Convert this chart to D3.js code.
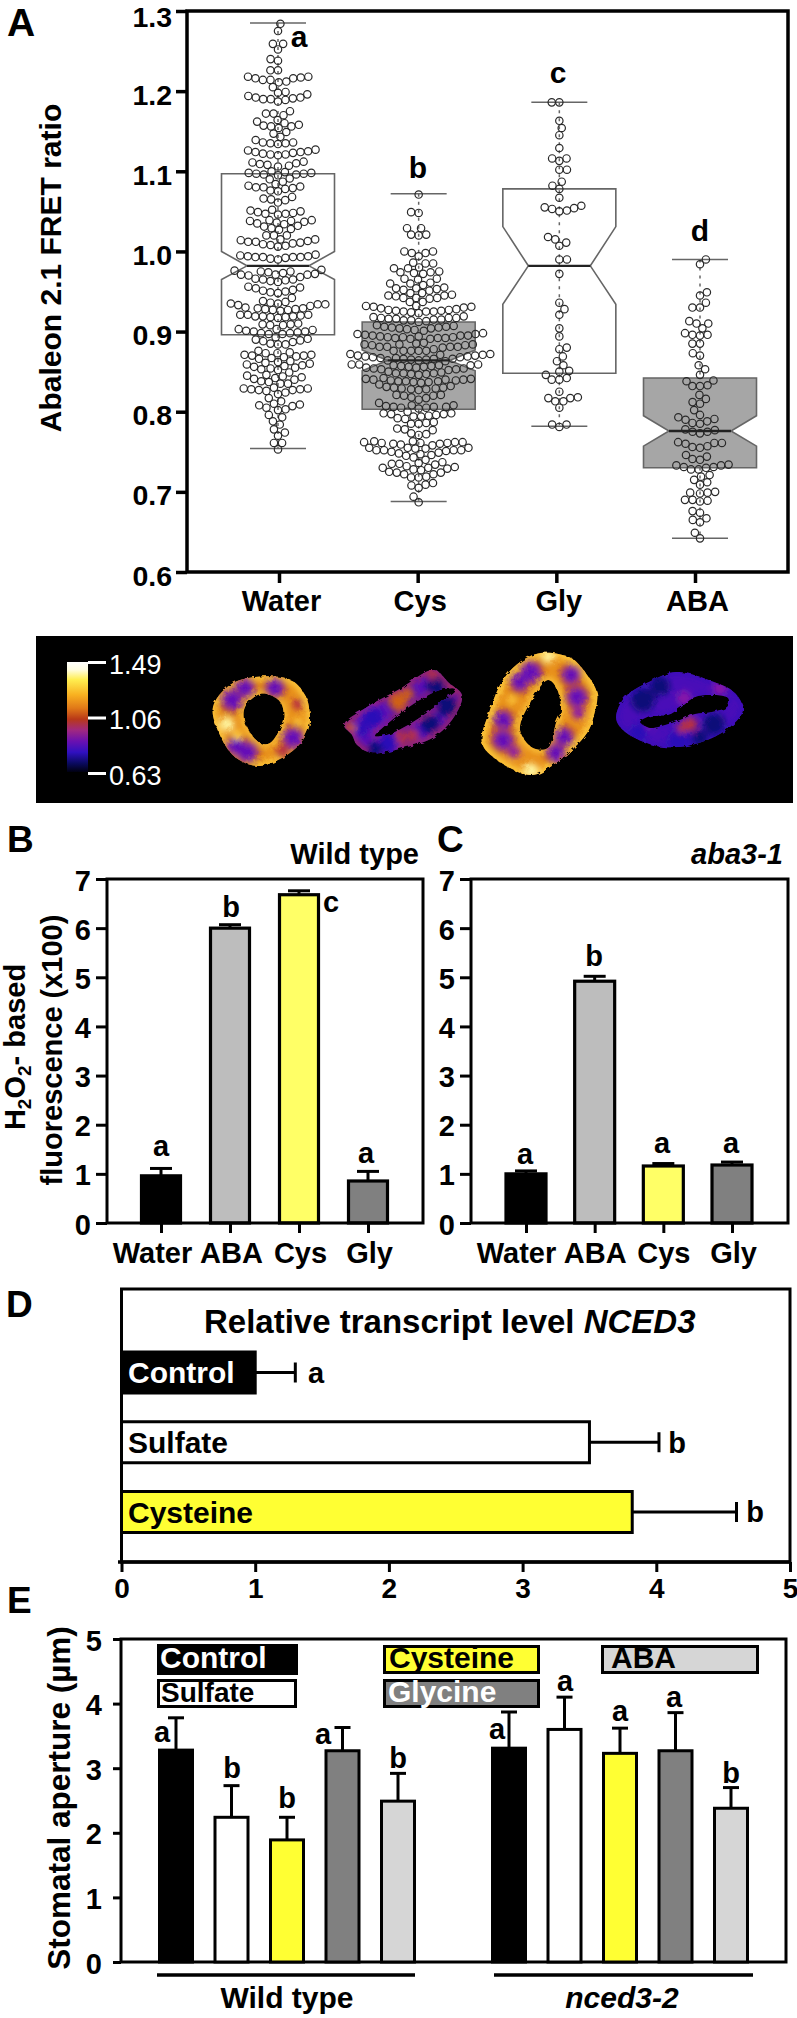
<!DOCTYPE html>
<html><head><meta charset="utf-8">
<script src="https://cdn.jsdelivr.net/npm/d3@7"></script>
<style>
html,body{margin:0;padding:0;background:#fff}
svg{display:block}
text{font-family:"Liberation Sans",Arial,sans-serif;font-weight:700;fill:#000}
</style></head><body>
<svg id="fig" width="797" height="2018"></svg>
<script>
/* ---------- Panel A data ---------- */
const boxCategories = ["Water","Cys","Gly","ABA"];
const boxLetters = ["a","b","c","d"];
const boxQ3 = [1.097,0.912,1.078,0.842];
const boxNotchHigh = [1.0,0.877,1.031,0.795];
const boxMedian = [0.982,0.864,0.982,0.776];
const boxNotchLow = [0.965,0.851,0.934,0.757];
const boxQ1 = [0.896,0.803,0.848,0.730];
const boxWhiskerHigh = [1.285,1.072,1.186,0.990];
const boxWhiskerLow = [0.754,0.688,0.782,0.642];
const boxFills = ["none","#a6a6a6","none","#a6a6a6"];
const aTicks = [0.6,0.7,0.8,0.9,1.0,1.1,1.2,1.3];

const waterValues = [1.284,1.275,1.259,1.259,1.252,1.24,1.238,1.226,1.226,
1.205,1.211,1.212,1.214,1.214,1.216,1.216,1.217,1.218,1.218,
1.187,1.189,1.19,1.19,1.191,1.192,1.192,1.194,1.196,1.198,1.199,
1.17,1.172,1.172,1.175,1.164,
1.143,1.147,1.149,1.154,1.156,1.156,1.157,1.158,1.16,1.162,
1.12,1.121,1.121,1.122,1.123,1.124,1.124,1.125,1.126,1.127,1.134,1.135,1.135,1.136,1.136,1.139,
1.106,1.107,1.108,1.109,1.11,1.111,1.112,
1.095,1.096,1.096,1.097,1.097,1.098,1.098,1.099,1.1,
1.075,1.076,1.078,1.079,1.08,1.08,1.081,1.082,1.084,1.087,1.09,1.091,
1.061,1.064,1.065,1.066,1.068,
1.046,1.047,1.047,1.048,1.049,1.05,1.051,1.052,
1.027,1.028,1.029,1.031,1.032,1.034,1.035,1.036,1.037,1.038,1.038,1.039,1.039,
1.006,1.007,1.008,1.009,1.01,1.011,1.012,1.012,1.013,1.014,1.015,1.015,1.02,1.02,1.02,
.99,.991,.992,.993,.993,.993,.993,.994,.994,.995,.996,
.962,.963,.964,.965,.965,.966,.968,.97,.971,.971,.971,.972,.973,.974,.975,.975,.976,.977,
.948,.949,.95,.951,.952,.954,.955,.956,
.932,.933,.934,.934,.935,.935,.936,.937,.938,.942,
.926,.927,.927,.928,.928,.929,.929,.93,
.917,.918,.918,.919,.919,.919,.92,.921,.921,.921,
.908,.908,.909,.909,.91,
.897,.897,.898,.898,.899,.9,.9,.901,.902,.903,.903,
.884,.884,.885,.887,.888,.889,.89,.891,.893,
.866,.867,.868,.869,.87,.87,.871,.871,.873,.873,.874,.876,
.852,.853,.854,.855,.856,.857,.858,.859,.86,.861,.862,.863,
.835,.835,.837,.838,.84,.841,.842,.843,.844,.845,.846,.849,
.822,.824,.826,.827,.827,.828,.828,.829,.829,.83,
.802,.803,.805,.807,.808,.809,.81,.813,.817,
.788,.793,.796,.77,.774,.778,.784,.761,.761,.753];

const cysValues = [1.071,1.048,1.049,1.029,1.029,1.02,1.021,1.021,
.994,.998,.998,1.0,1.0,
.979,.979,.98,.985,.985,.986,
.972,.973,.974,.974,.975,
.96,.96,.961,.965,.966,.966,.958,.954,
.941,.942,.942,.942,.944,.945,.945,.946,.948,.948,.951,.952,.953,.954,.955,
.923,.924,.925,.925,.925,.926,.926,.927,.927,.928,.929,.93,.931,.932,.931,.932,.937,.937,
.912,.913,.914,.914,.915,.915,.916,.916,.917,.917,.917,.918,.919,
.901,.902,.903,.904,.904,.905,.905,.906,.906,.907,.908,
.891,.891,.892,.892,.892,.893,.893,.893,.894,.894,.895,.895,.895,.896,.897,.897,.898,
.876,.876,.876,.876,.876,.878,.88,.881,.881,.881,.881,.883,.883,.884,.884,.884,.885,.886,
.863,.864,.864,.865,.865,.866,.866,.866,.867,.867,.868,.868,.869,.869,.87,.87,.871,.871,.872,.872,
.852,.853,.853,.854,.854,.855,.855,.856,.856,.857,.857,.858,.858,.858,.859,.859,.859,
.846,.847,.847,.848,.848,.848,.849,.85,
.836,.837,.837,.838,.838,.838,.839,.839,.84,.84,.84,.841,.841,.842,
.827,.828,.828,.829,.829,.83,.83,.831,.832,.834,
.811,.815,.817,.818,.82,.82,.821,.821,
.804,.805,.805,.806,.806,.806,.807,.808,.808,
.791,.792,.794,.794,.795,.796,.797,.797,.798,.798,.8,
.777,.778,.779,.785,.785,.786,.787,
.771,.772,.773,
.758,.759,.76,.76,.761,.761,.761,.762,.762,.762,.763,.763,
.748,.749,.75,.751,.752,.752,.752,.752,.754,.754,.755,.755,.755,
.734,.735,.735,.736,.737,.74,.743,.745,.746,.747,
.718,.718,.719,.722,.722,.724,.724,.725,.727,.728,.729,.73,.73,.731,.732,
.705,.708,.709,.711,.694,.687];

const glyValues = [1.186,1.186,1.163,1.154,1.145,1.129,1.116,1.116,1.113,1.102,1.102,
1.087,1.082,1.078,1.067,1.057,1.055,1.054,1.051,1.053,1.05,
1.018,1.015,1.011,1.007,.99,.99,.972,.936,.928,.921,.904,.894,.88,.878,.869,.863,.858,
.851,.85,.846,.842,.84,.84,.825,.818,.817,.817,.813,.813,.805,.784,.784,.781];

const abaValues = [.99,.984,.949,.945,.936,.93,.93,.913,.91,.91,.904,.898,.896,.896,.895,.885,.885,.873,.87,
.858,.853,.846,.839,.838,.833,.832,.832,.821,.816,.812,.81,
.802,.796,.793,.791,.79,.788,.786,.785,.778,.777,.775,.775,.773,
.762,.761,.761,.76,.757,.756,.755,.746,.744,.741,.74,
.734,.733,.733,.731,.731,.73,.728,.728,.721,.719,.715,.712,.709,
.7,.699,.699,.698,.69,.69,.689,.688,.676,.674,.667,.665,.662,.649,.642];
const swarmValues = [waterValues,cysValues,glyValues,abaValues];

/* ---------- Panels B, C data ---------- */
const fluorCategories = ["Water","ABA","Cys","Gly"];
const fluorFills = ["#000000","#bdbdbd","#ffff66","#808080"];
const wtFluor = [0.96,6.0,6.68,0.855];
const wtFluorErr = [1.11,6.07,6.76,1.05];
const wtFluorLetters = ["a","b","c","a"];
const abaFluor = [1.0,4.92,1.16,1.18];
const abaFluorErr = [1.06,5.02,1.21,1.24];
const abaFluorLetters = ["a","b","a","a"];
const fluorTicks = [0,1,2,3,4,5,6,7];

/* ---------- Panel D data ---------- */
const nced3Categories = ["Control","Sulfate","Cysteine"];
const nced3Values = [1.0,3.5,3.82];
const nced3Err = [1.30,4.02,4.6];
const nced3Letters = ["a","b","b"];
const nced3Fills = ["#000000","#ffffff","#ffff33"];
const nced3TextFills = ["#ffffff","#000000","#000000"];
const nced3Ticks = [0,1,2,3,4,5];

/* ---------- Panel E data ---------- */
const apertureSlots = [0,1,2,3,4,6,7,8,9,10];
const apertureValues = [3.28,2.24,1.89,3.27,2.49,3.31,3.6,3.23,3.27,2.38];
const apertureErr = [3.78,2.73,2.24,3.63,2.92,3.87,4.1,3.62,3.86,2.7];
const apertureLetters = ["a","b","b","a","b","a","a","a","a","b"];
const apertureFills = ["#000000","#ffffff","#ffff33","#808080","#d6d6d6","#000000","#ffffff","#ffff33","#808080","#d6d6d6"];
const apertureTicks = [0,1,2,3,4,5];
const legendNames = ["Control","Sulfate","Cysteine","Glycine","ABA"];
const legendFills = ["#000000","#ffffff","#ffff33","#808080","#d6d6d6"];
const legendTextFills = ["#ffffff","#000000","#000000","#ffffff","#000000"];

/* ---------- Heat-map scale ---------- */
const heatTicks = ["1.49","1.06","0.63"];
const heatStops = [[0,"#ffffff"],[0.07,"#fffde0"],[0.16,"#ffee50"],[0.3,"#f8b020"],[0.42,"#e07818"],[0.52,"#b83818"],[0.62,"#a02880"],[0.72,"#6a10b0"],[0.82,"#3010c0"],[0.92,"#0a0a60"],[1,"#000010"]];

const svg = d3.select("#fig");
const defs = svg.append("defs");
const BLACK = "#000";

function txt(g,x,y,s,size,anchor="middle",extra={}){
  const t=g.append("text").attr("x",x).attr("y",y).attr("font-size",size).attr("text-anchor",anchor).text(s);
  Object.entries(extra).forEach(([k,v])=>t.style(k,v));
  return t;
}
function styleAxis(g,{width=3,size=28,dy=null,y=null}){
  g.select(".domain").remove();
  g.selectAll(".tick line").attr("stroke",BLACK).attr("stroke-width",width);
  const t=g.selectAll(".tick text").attr("font-size",size).style("fill","#000").attr("font-family",null);
  if(dy!==null) t.attr("dy",dy);
  if(y!==null) t.attr("y",y);
}
function frame(x0,x1,y0,y1,w){
  svg.append("rect").attr("x",x0).attr("y",y0).attr("width",x1-x0).attr("height",y1-y0)
    .attr("fill","none").attr("stroke",BLACK).attr("stroke-width",w);
}

/* panel letters */
[["A",7,36,39],["B",7,852,37],["C",437,852,37],["D",6,1317,37],["E",7,1613,37]].forEach(d=>txt(svg,d[1],d[2],d[0],d[3],"start"));

/* ========== Panel A ========== */
(function(){
  const y=d3.scaleLinear().domain([0.6,1.3]).range([572,11]);
  const xTick=d3.scalePoint().domain(boxCategories).range([279,695]);
  const xBox=d3.scalePoint().domain(boxCategories).range([278,700]);
  const halfBox=56.5, halfWhisk=28, halfMed=31, r=3.7, d2=7.6;
  const g=svg.append("g");
  boxCategories.forEach((c,i)=>{
    const cx=xBox(c), l=cx-halfBox, rr=cx+halfBox, m=halfMed;
    const gg=g.append("g");
    gg.append("line").attr("x1",cx).attr("x2",cx).attr("y1",y(boxWhiskerHigh[i])).attr("y2",y(boxWhiskerLow[i]))
      .attr("stroke","#666").attr("stroke-width",1.5).attr("stroke-dasharray","3,5");
    [boxWhiskerHigh[i],boxWhiskerLow[i]].forEach(v=>gg.append("line")
      .attr("x1",cx-halfWhisk).attr("x2",cx+halfWhisk).attr("y1",y(v)).attr("y2",y(v)).attr("stroke","#666").attr("stroke-width",1.5));
    const pts=[[l,boxQ3[i]],[rr,boxQ3[i]],[rr,boxNotchHigh[i]],[cx+m,boxMedian[i]],[rr,boxNotchLow[i]],[rr,boxQ1[i]],
      [l,boxQ1[i]],[l,boxNotchLow[i]],[cx-m,boxMedian[i]],[l,boxNotchHigh[i]]];
    gg.append("path").attr("d",d3.line().x(d=>d[0]).y(d=>y(d[1])).curve(d3.curveLinearClosed)(pts))
      .attr("fill",boxFills[i]).attr("stroke","#666").attr("stroke-width",1.6);
    /* beeswarm layout from the values */
    const placed=[];
    swarmValues[i].slice().sort(d3.ascending).forEach((v,k)=>{
      const py=y(v);
      const near=placed.filter(p=>Math.abs(p.y-py)<d2);
      const cand=[0];
      near.forEach(p=>{const dx=Math.sqrt(d2*d2-(p.y-py)*(p.y-py));cand.push(p.x-dx,p.x+dx);});
      const free=cand.filter(x=>near.every(p=>(p.x-x)*(p.x-x)+(p.y-py)*(p.y-py)>=d2*d2-0.01));
      free.sort((a,b)=>(Math.abs(a)-Math.abs(b))||((k%2?1:-1)*(a-b)));
      placed.push({x:free[0],y:py});
    });
    gg.selectAll("circle").data(placed).join("circle")
      .attr("cx",d=>cx+d.x).attr("cy",d=>d.y).attr("r",r)
      .attr("fill","none").attr("stroke","#2a2a2a").attr("stroke-width",1.2);
    gg.append("line").attr("x1",cx-m).attr("x2",cx+m).attr("y1",y(boxMedian[i])).attr("y2",y(boxMedian[i]))
      .attr("stroke","#222").attr("stroke-width",2.4);
  });
  frame(187,788,11,572,3.5);
  const ax=svg.append("g").attr("transform","translate(187,0)")
    .call(d3.axisLeft(y).tickValues(aTicks).tickFormat(d3.format(".1f")).tickSize(11).tickPadding(4));
  styleAxis(ax,{width:3.5,size:28.5,dy:"13px"});
  ax.selectAll(".tick text").filter(d=>d===1.3).attr("dy","15px");
  const bx=svg.append("g").attr("transform","translate(0,572)")
    .call(d3.axisBottom(xTick).tickSize(11).tickPadding(0));
  styleAxis(bx,{width:3.5,size:29,dy:"0",y:39});
  bx.selectAll(".tick text").attr("dx","2");
  [[299,47],[418,178],[558,83],[700,241]].forEach((p,i)=>txt(svg,p[0],p[1],boxLetters[i],30));
  txt(svg,0,0,"Abaleon 2.1 FRET ratio",30).attr("transform","translate(61,268) rotate(-90)");
})();

/* ========== Heat-map strip ========== */
(function(){
  svg.append("rect").attr("x",36).attr("y",636).attr("width",757).attr("height",167).attr("fill","#000");
  const grad=defs.append("linearGradient").attr("id","heat").attr("x1",0).attr("x2",0).attr("y1",0).attr("y2",1);
  heatStops.forEach(s=>grad.append("stop").attr("offset",s[0]).attr("stop-color",s[1]));
  svg.append("rect").attr("x",67).attr("y",662).attr("width",21).attr("height",110).attr("fill","url(#heat)");
  const sc=d3.scalePoint().domain(heatTicks).range([662,773]);
  const ax=svg.append("g").attr("transform","translate(88,0)").call(d3.axisRight(sc).tickSize(18).tickPadding(3));
  ax.select(".domain").remove();
  ax.selectAll(".tick line").attr("stroke","#fff").attr("stroke-width",3);
  ax.selectAll(".tick text").attr("font-size",27).attr("dy","11px").style("fill","#fff").style("font-weight",400).attr("font-family",null);

  const f1=defs.append("filter").attr("id","soft").attr("x","-30%").attr("y","-30%").attr("width","160%").attr("height","160%");
  f1.append("feGaussianBlur").attr("stdDeviation",3.2);
  const f2=defs.append("filter").attr("id","rough").attr("x","-10%").attr("y","-10%").attr("width","120%").attr("height","120%");
  f2.append("feTurbulence").attr("type","fractalNoise").attr("baseFrequency",0.22).attr("numOctaves",2).attr("seed",4).attr("result","n");
  f2.append("feDisplacementMap").attr("in","SourceGraphic").attr("in2","n").attr("scale",4);

  const P="#6410b8",B="#2c10b8",N="#100878",O="#e8901c",Y="#ffd040",W="#fff6a0",R="#b83040",M="#8a18a8",D="#d06018";
  const stomata=[
   {outer:[[213,707],[230,685],[255,677],[291,680],[305,695],[309,707],[309,727],[296,748],[260,766],[235,757],[219,733]],
    hole:[[260,694],[245,707],[245,723],[260,743],[270,743],[283,720],[281,703],[270,695]],base:O,rim:Y,rimW:6,halo:"#b84420",
    spots:[[245,688,8,P],[275,688,8,P],[232,700,9,P],[247,752,9,P],[236,746,8,P],[293,738,9,P],[283,752,7,R],[298,704,6,R],[227,724,7,W],[237,735,5,Y],[298,722,4,Y]]},
   {outer:[[344,725],[367,707],[398,690],[434,670],[449,683],[462,695],[454,717],[434,737],[403,748],[372,753],[357,745],[352,735]],
    hole:[[375,736],[392,720],[415,703],[440,690],[455,689],[446,698],[428,712],[408,725],[390,734]],base:"#5a10b4",rim:R,rimW:4,
    spots:[[372,717,11,B],[360,730,7,B],[388,743,11,B],[375,750,8,N],[436,686,10,N],[447,706,11,N],[430,724,10,N],[418,733,7,B],[398,702,9,D],[408,694,6,D],[413,735,6,R],[402,738,6,R],[352,727,4,D],[432,676,4,R]]},
   {outer:[[482,743],[490,710],[503,680],[520,662],[541,653],[571,658],[585,672],[597,693],[594,715],[587,733],[556,763],[531,775],[497,760]],
    hole:[[548,680],[530,703],[520,730],[533,748],[548,748],[556,723],[561,710],[556,687]],base:O,rim:Y,rimW:7,halo:"#b84420",
    spots:[[531,672,9,P],[520,682,8,P],[571,675,8,P],[577,697,9,P],[578,713,6,M],[503,720,8,P],[503,740,9,P],[514,752,6,M],[564,737,8,P],[556,753,8,P],[531,770,7,W],[548,657,6,W],[512,700,4,Y],[565,760,4,D]]},
   {outer:[[616,717],[625,697],[653,680],[676,672],[714,682],[735,693],[743,710],[730,727],[699,743],[663,747],[633,737],[620,727]],
    hole:[[640,722],[650,716],[668,715],[680,708],[695,697],[712,695],[728,698],[728,706],[712,712],[695,714],[680,720],[665,725],[650,728]],base:"#4a10b8",rim:B,rimW:3,
    spots:[[643,700,12,N],[660,686,10,N],[714,724,11,N],[679,741,12,B],[638,733,9,B],[700,738,8,N],[690,724,7,R],[682,728,5,R],[720,688,7,M],[684,698,7,M],[650,725,4,M]]}
  ];
  const blob=d3.line().curve(d3.curveCatmullRomClosed);
  stomata.forEach((s,i)=>{
    const o=blob(s.outer), h=blob(s.hole);
    defs.append("clipPath").attr("id","ring"+i).append("path").attr("d",o+h).attr("clip-rule","evenodd");
    const rough=svg.append("g").attr("filter","url(#rough)");
    const g=rough.append("g").attr("clip-path",`url(#ring${i})`);
    g.append("rect").attr("x",200).attr("y",640).attr("width",560).attr("height",150).attr("fill",s.base);
    const inner=g.append("g").attr("filter","url(#soft)");
    inner.append("path").attr("d",o).attr("fill","none").attr("stroke",s.rim).attr("stroke-width",s.rimW);
    inner.append("path").attr("d",h).attr("fill","none").attr("stroke",s.rim).attr("stroke-width",s.rimW*.7);
    if(s.halo) inner.selectAll("circle.h").data(s.spots.filter(d=>d[3]===P)).join("circle").attr("class","h")
      .attr("cx",d=>d[0]).attr("cy",d=>d[1]).attr("r",d=>d[2]*1.5).attr("fill",s.halo);
    inner.selectAll("circle.s").data(s.spots).join("circle").attr("class","s")
      .attr("cx",d=>d[0]).attr("cy",d=>d[1]).attr("r",d=>d[2]).attr("fill",d=>d[3]);
  });
})();

/* ========== Panels B, C ========== */
function fluor(x0,x1,xr,vals,errs,lets,letPos,labelDx,barW,tickRight){
  const y=d3.scaleLinear().domain([0,7]).range([1223,879]);
  const x=d3.scalePoint().domain(fluorCategories).range(xr);
  const g=svg.append("g");
  fluorCategories.forEach((c,i)=>{
    g.append("line").attr("x1",x(c)).attr("x2",x(c)).attr("y1",y(vals[i])).attr("y2",y(errs[i])).attr("stroke",BLACK).attr("stroke-width",3);
    g.append("line").attr("x1",x(c)-11).attr("x2",x(c)+11).attr("y1",y(errs[i])).attr("y2",y(errs[i])).attr("stroke",BLACK).attr("stroke-width",3);
    g.append("rect").attr("x",x(c)-barW/2).attr("y",y(vals[i])).attr("width",barW).attr("height",y(0)-y(vals[i]))
      .attr("fill",fluorFills[i]).attr("stroke",BLACK).attr("stroke-width",3.2);
    txt(svg,letPos[i][0],letPos[i][1],lets[i],29);
  });
  frame(x0,x1,879,1223,3);
  const ax=svg.append("g").attr("transform",`translate(${x0},0)`).call(d3.axisLeft(y).tickValues(fluorTicks).tickFormat(d3.format("d")).tickSize(x0-tickRight).tickPadding(5));
  styleAxis(ax,{width:3,size:29,dy:"11px"});
  const bx=svg.append("g").attr("transform","translate(0,1223)").call(d3.axisBottom(x).tickSize(10).tickPadding(0));
  styleAxis(bx,{width:3,size:29,dy:"0",y:40});
  bx.selectAll(".tick text").attr("dx",(d,i)=>labelDx[i]);
}
fluor(107,423,[161,368],wtFluor,wtFluorErr,wtFluorLetters,[[161,1156],[231,917],[331,912],[366,1163]],[-9,1,1,1],39,96);
fluor(471,788,[526,732],abaFluor,abaFluorErr,abaFluorLetters,[[525,1164],[594,966],[662,1153],[731,1153]],[-10,0,0,1],40,460);
txt(svg,419,864,"Wild type",29,"end");
txt(svg,783,864,"aba3-1",29,"end").style("font-style","italic");
(function(){
  const t=svg.append("text").attr("transform","translate(25,1047) rotate(-90)").attr("text-anchor","middle").attr("font-size",29);
  t.append("tspan").text("H");
  t.append("tspan").attr("dy",6).attr("font-size",19).text("2");
  t.append("tspan").attr("dy",-6).text("O");
  t.append("tspan").attr("dy",6).attr("font-size",19).text("2");
  t.append("tspan").attr("dy",-6).text("- based");
  txt(svg,0,0,"fluorescence (x100)",29).attr("transform","translate(62,1050) rotate(-90)");
})();

/* ========== Panel D ========== */
(function(){
  const x=d3.scaleLinear().domain([0,5]).range([121.5,790]);
  const y=d3.scalePoint().domain(nced3Categories).range([1372.5,1512]);
  frame(121.5,790,1289,1562,3);
  nced3Categories.forEach((c,i)=>{
    svg.append("line").attr("x1",x(nced3Values[i])).attr("x2",x(nced3Err[i])).attr("y1",y(c)).attr("y2",y(c)).attr("stroke",BLACK).attr("stroke-width",3);
    svg.append("line").attr("x1",x(nced3Err[i])).attr("x2",x(nced3Err[i])).attr("y1",y(c)-10).attr("y2",y(c)+10).attr("stroke",BLACK).attr("stroke-width",3);
    svg.append("rect").attr("x",x(0)).attr("y",y(c)-20.5).attr("width",x(nced3Values[i])-x(0)).attr("height",41)
      .attr("fill",nced3Fills[i]).attr("stroke",BLACK).attr("stroke-width",3);
    txt(svg,128,y(c)+10.5,c,30,"start").style("fill",nced3TextFills[i]);
  });
  [[316,1383],[677,1453],[755,1522]].forEach((p,i)=>txt(svg,p[0],p[1],nced3Letters[i],29));
  const bx=svg.append("g").attr("transform","translate(0,1562)").call(d3.axisBottom(x).tickValues(nced3Ticks).tickFormat(d3.format("d")).tickSize(10).tickPadding(0));
  styleAxis(bx,{width:3,size:28,dy:"0",y:36});
  svg.append("line").attr("x1",118).attr("x2",790).attr("y1",1562).attr("y2",1562).attr("stroke",BLACK).attr("stroke-width",3.5);
  const t=svg.append("text").attr("x",204).attr("y",1333).attr("font-size",33);
  t.append("tspan").text("Relative transcript level ");
  t.append("tspan").style("font-style","italic").text("NCED3");
})();

/* ========== Panel E ========== */
(function(){
  const y=d3.scaleLinear().domain([0,5]).range([1962,1639]);
  const x=d3.scaleLinear().domain([0,10]).range([176,731]);
  frame(121,786,1639,1962,3);
  const letPos=[[162,1742],[232,1778],[287,1808],[323,1744],[398,1768],[497,1739],[565,1691],[620,1721],[674,1707],[731,1783]];
  apertureSlots.forEach((s,i)=>{
    svg.append("line").attr("x1",x(s)).attr("x2",x(s)).attr("y1",y(apertureValues[i])).attr("y2",y(apertureErr[i])).attr("stroke",BLACK).attr("stroke-width",3);
    svg.append("line").attr("x1",x(s)-8).attr("x2",x(s)+8).attr("y1",y(apertureErr[i])).attr("y2",y(apertureErr[i])).attr("stroke",BLACK).attr("stroke-width",3);
    svg.append("rect").attr("x",x(s)-16.5).attr("y",y(apertureValues[i])).attr("width",33).attr("height",y(0)-y(apertureValues[i]))
      .attr("fill",apertureFills[i]).attr("stroke",BLACK).attr("stroke-width",3);
    txt(svg,letPos[i][0],letPos[i][1],apertureLetters[i],29);
  });
  const ax=svg.append("g").attr("transform","translate(121,0)").call(d3.axisLeft(y).tickValues(apertureTicks).tickFormat(d3.format("d")).tickSize(8).tickPadding(11));
  styleAxis(ax,{width:3,size:29,dy:"11px"});
  const boxes=[[158.5,1645.5,138,28],[158.5,1680.5,137,26],[384.5,1646.5,154,26],[384.5,1680.5,154,26],[602.5,1646.5,155,26]];
  const texts=[[160,1668,30],[161,1702,28],[389,1668,30],[388,1702,30],[611,1668,30]];
  legendNames.forEach((n,i)=>{
    const b=boxes[i];
    svg.append("rect").attr("x",b[0]).attr("y",b[1]).attr("width",b[2]).attr("height",b[3])
      .attr("fill",legendFills[i]).attr("stroke",BLACK).attr("stroke-width",3);
    txt(svg,texts[i][0],texts[i][1],n,texts[i][2],"start").style("fill",legendTextFills[i]);
  });
  svg.append("line").attr("x1",157).attr("x2",415).attr("y1",1975).attr("y2",1975).attr("stroke",BLACK).attr("stroke-width",3.5);
  svg.append("line").attr("x1",494).attr("x2",753).attr("y1",1975).attr("y2",1975).attr("stroke",BLACK).attr("stroke-width",3.5);
  txt(svg,287,2008,"Wild type",30);
  txt(svg,622,2008,"nced3-2",30).style("font-style","italic");
  txt(svg,0,0,"Stomatal aperture (µm)",31.5).attr("transform","translate(70,1798) rotate(-90)");
})();
</script>
</body></html>
